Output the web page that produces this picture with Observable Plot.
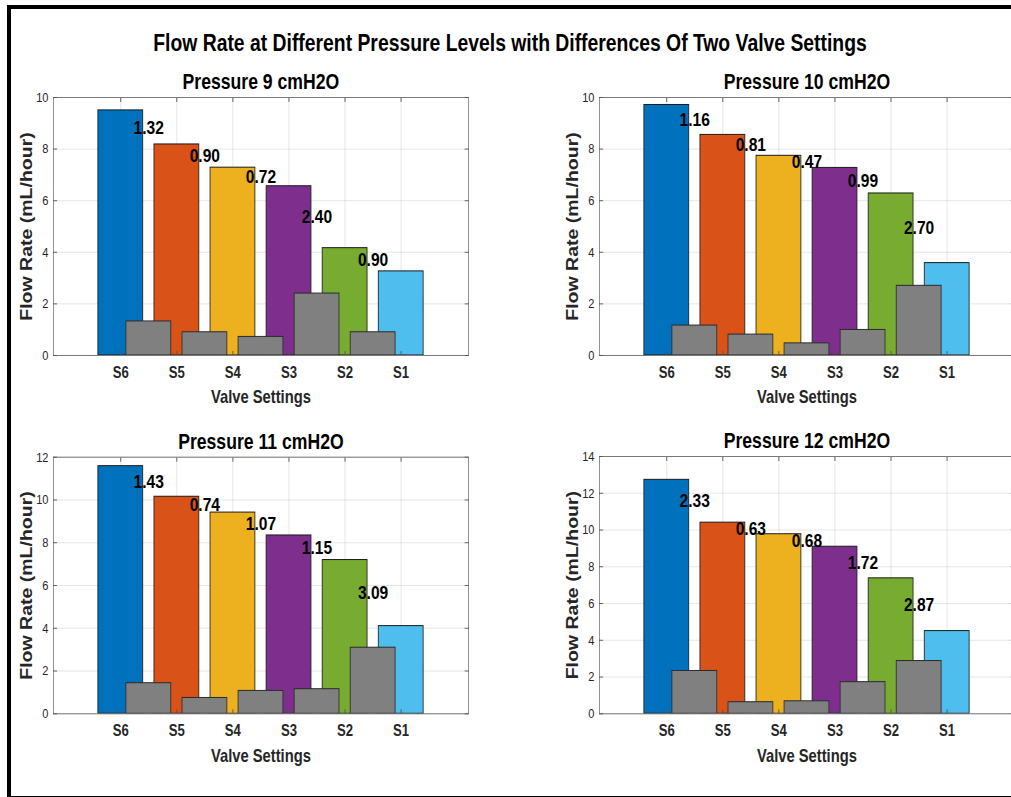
<!DOCTYPE html>
<html><head><meta charset="utf-8">
<script src="https://cdn.jsdelivr.net/npm/d3@7"></script>
<script src="https://cdn.jsdelivr.net/npm/@observablehq/plot@0.6"></script>
<style>
html,body{margin:0;padding:0;background:#fff;overflow:hidden;}
#root{position:relative;width:1011px;height:797px;overflow:hidden;background:#fff;}
#border{position:absolute;left:7px;top:5px;width:1100px;height:787px;border-left:4px solid #000;border-top:4px solid #000;border-bottom:2px solid #000;}
#title{position:absolute;left:0;top:30px;text-align:center;font-weight:bold;font-size:23.6px;font-family:"Liberation Sans",Arial,sans-serif;color:#000;white-space:nowrap;transform-origin:0 0;}
.panel{position:absolute;transform-origin:0 0;}
</style></head><body>
<div id="root"><div id="border"></div><div id="title">Flow Rate at Different Pressure Levels with Differences Of Two Valve Settings</div></div>
<script>
// ---- data ----
const settings = ["S6", "S5", "S4", "S3", "S2", "S1"];
const panelTitles = ["Pressure 9 cmH2O", "Pressure 10 cmH2O", "Pressure 11 cmH2O", "Pressure 12 cmH2O"];
const flow9  = [9.50, 8.18, 7.28, 6.56, 4.16, 3.26];
const flow10 = [9.71, 8.55, 7.74, 7.27, 6.28, 3.58];
const flow11 = [11.58, 10.15, 9.41, 8.34, 7.19, 4.10];
const flow12 = [12.73, 10.40, 9.77, 9.09, 7.37, 4.50];
const diff9  = [1.32, 0.90, 0.72, 2.40, 0.90];
const diff10 = [1.16, 0.81, 0.47, 0.99, 2.70];
const diff11 = [1.43, 0.74, 1.07, 1.15, 3.09];
const diff12 = [2.33, 0.63, 0.68, 1.72, 2.87];
const yTicks10 = [0, 2, 4, 6, 8, 10];
const yTicks12 = [0, 2, 4, 6, 8, 10, 12];
const yTicks14 = [0, 2, 4, 6, 8, 10, 12, 14];
const barColors = ["#0072BD", "#D95319", "#EDB120", "#7E2F8E", "#77AC30", "#4DBEEE"];
const diffColor = "#808080";
const xLabel = "Valve Settings";
const yLabel = "Flow Rate (mL/hour)";

const flows = [flow9, flow10, flow11, flow12];
const diffs = [diff9, diff10, diff11, diff12];
const yTicksAll = [yTicks10, yTicks10, yTicks12, yTicks14];

// the figure is horizontally condensed: draw wider, then squeeze
const S = 0.82;
const font = '"Liberation Sans",Arial,sans-serif';
const titleEl = document.getElementById("title");
titleEl.style.width = (1020 / S) + "px";
titleEl.style.transform = `scaleX(${S})`;

const layout = [
  {left: 0,   top: 60,  mt: 37,   mb: 85},
  {left: 546, top: 60,  mt: 37,   mb: 85},
  {left: 0,   top: 420, mt: 36.7, mb: 86.7},
  {left: 546, top: 420, mt: 36,   mb: 86.7}
];

const root = document.getElementById("root");
for (let i = 0; i < 4; i++) {
  const vals = flows[i];
  const bars = vals.map((v, j) => ({pos: j + 1, v, color: barColors[j]}));
  const grays = diffs[i].map((d, j) => ({pos: j + 1.5, d, mid: (vals[j] + vals[j + 1]) / 2}));
  const yt = yTicksAll[i];
  const xt = settings.map((s, j) => j + 1);
  const L = layout[i];
  const chart = Plot.plot({
    width: 505 / S, height: 380,
    marginLeft: 53 / S, marginRight: 37 / S, marginTop: L.mt, marginBottom: L.mb,
    style: {fontFamily: font, background: "transparent", overflow: "visible"},
    x: {type: "linear", domain: [-0.2, 7.2]},
    y: {domain: [0, yt[yt.length - 1]]},
    color: {type: "identity"},
    marks: [
      Plot.gridX(xt, {stroke: "#262626", strokeOpacity: 0.13}),
      Plot.gridY(yt, {stroke: "#262626", strokeOpacity: 0.13}),
      Plot.rect(bars, {x1: d => d.pos - 0.4, x2: d => d.pos + 0.4, y1: 0, y2: "v", fill: d => d.color, stroke: "#1a1a1a", strokeWidth: 1}),
      Plot.rect(grays, {x1: d => d.pos - 0.4, x2: d => d.pos + 0.4, y1: 0, y2: "d", fill: diffColor, stroke: "#2a2a2a", strokeWidth: 1}),
      Plot.text(grays, {x: "pos", y: "mid", text: d => d.d.toFixed(2), fontSize: 19, fontWeight: "bold", fill: "#000"}),
      Plot.frame({stroke: "#7a7a7a"}),
      Plot.axisY(yt, {anchor: "left", tickSize: 0, tickPadding: 6, fontSize: 13.5, fill: "#262626", label: null}),
      Plot.axisY(yt, {anchor: "left", tickSize: -5, tickFormat: () => "", stroke: "#555", label: null}),
      Plot.axisY(yt, {anchor: "right", tickSize: -5, tickFormat: () => "", stroke: "#555", label: null}),
      Plot.axisX(xt, {anchor: "bottom", tickSize: 0, tickPadding: 11, tickFormat: k => settings[k - 1], fontSize: 16, fontWeight: "bold", fill: "#262626", label: null}),
      Plot.axisX(xt, {anchor: "bottom", tickSize: -4, tickFormat: () => "", stroke: "#555", label: null}),
      Plot.axisX(xt, {anchor: "top", tickSize: -4, tickFormat: () => "", stroke: "#555", label: null}),
      Plot.text([panelTitles[i]], {text: d => d, frameAnchor: "top", lineAnchor: "bottom", dy: -8, fontSize: 21.5, fontWeight: "bold", fill: "#000"}),
      Plot.text([xLabel], {text: d => d, frameAnchor: "bottom", lineAnchor: "top", dy: 35, fontSize: 18, fontWeight: "bold", fill: "#262626"}),
      Plot.text([yLabel], {text: d => d, frameAnchor: "left", textAnchor: "middle", lineAnchor: "middle", rotate: -90, dx: -27 / S, fontSize: 19.5, fontWeight: "bold", fill: "#262626"})
    ]
  });
  chart.classList.add("panel");
  chart.style.left = L.left + "px";
  chart.style.top = L.top + "px";
  chart.style.transform = `scaleX(${S})`;
  root.appendChild(chart);
}
</script>
</body></html>
